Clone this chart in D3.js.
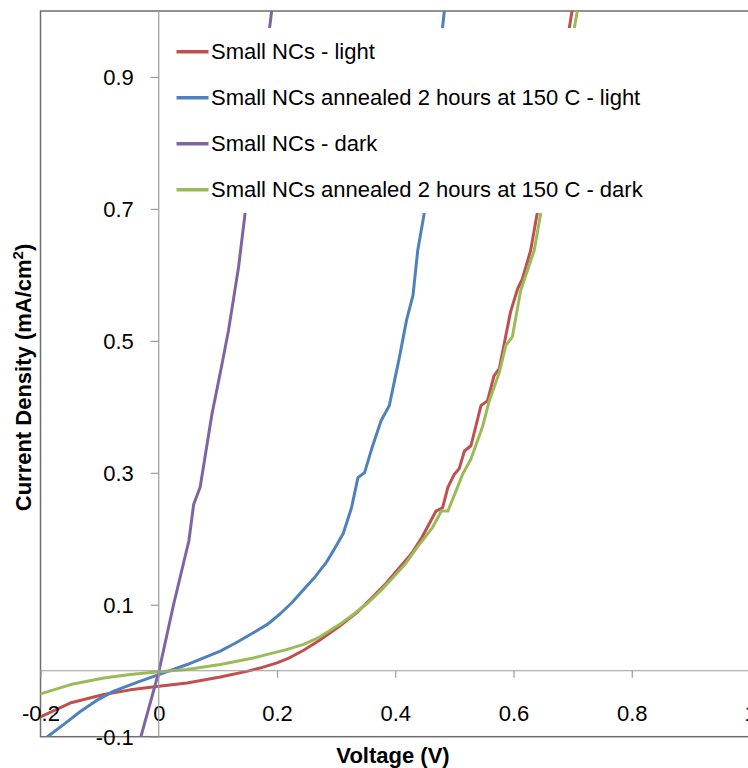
<!DOCTYPE html>
<html>
<head>
<meta charset="utf-8">
<script src="https://cdn.jsdelivr.net/npm/d3@7"></script>
<style>
  html, body { margin: 0; padding: 0; background: #ffffff; }
  svg { display: block; font-family: "Liberation Sans", Arial, sans-serif; }
</style>
</head>
<body>
<svg id="chart" width="748" height="768"></svg>
<script>
// ---------- data ----------
const xTicks = [-0.2, 0, 0.2, 0.4, 0.6, 0.8, 1.0];
const xTickLabels = ["-0.2", "0", "0.2", "0.4", "0.6", "0.8", "1"];
const yTicks = [-0.1, 0.1, 0.3, 0.5, 0.7, 0.9];
const yTickLabels = ["-0.1", "0.1", "0.3", "0.5", "0.7", "0.9"];

const seriesNames = [
  "Small NCs - light",
  "Small NCs annealed 2 hours at 150 C - light",
  "Small NCs - dark",
  "Small NCs annealed 2 hours at 150 C - dark"
];

// Small NCs - light
const lightV = [-0.2, -0.15, -0.093, -0.048, 0, 0.048, 0.104, 0.149, 0.175, 0.2, 0.22, 0.245, 0.27, 0.305, 0.335, 0.36, 0.385, 0.407, 0.428, 0.445, 0.469, 0.48, 0.489, 0.5, 0.508, 0.517, 0.528, 0.545, 0.556, 0.567, 0.576, 0.595, 0.607, 0.615, 0.629, 0.64, 0.672, 0.699, 0.705];
const lightJ = [-0.07, -0.049, -0.036, -0.029, -0.0235, -0.0185, -0.0094, -0.001, 0.005, 0.012, 0.019, 0.031, 0.045, 0.067, 0.088, 0.11, 0.133, 0.156, 0.178, 0.202, 0.242, 0.247, 0.278, 0.298, 0.306, 0.333, 0.341, 0.402, 0.409, 0.447, 0.458, 0.544, 0.579, 0.594, 0.637, 0.693, 0.85, 1.0, 1.04];

// Small NCs annealed - light
const annLightV = [-0.2, -0.191, -0.16, -0.132, -0.105, -0.076, -0.038, 0, 0.048, 0.104, 0.13, 0.16, 0.185, 0.205, 0.225, 0.244, 0.265, 0.284, 0.298, 0.312, 0.326, 0.337, 0.348, 0.36, 0.376, 0.39, 0.407, 0.419, 0.43, 0.438, 0.449, 0.465, 0.483, 0.487];
const annLightJ = [-0.108, -0.102, -0.081, -0.0615, -0.045, -0.031, -0.018, -0.006, 0.0094, 0.0296, 0.042, 0.0575, 0.071, 0.086, 0.103, 0.122, 0.143, 0.165, 0.186, 0.208, 0.247, 0.293, 0.3, 0.336, 0.379, 0.402, 0.475, 0.531, 0.569, 0.637, 0.693, 0.85, 1.0, 1.04];

// Small NCs - dark
const darkV = [-0.04, -0.031, 0, 0.025, 0.051, 0.059, 0.07, 0.079, 0.09, 0.107, 0.118, 0.126, 0.135, 0.146, 0.17, 0.191, 0.196];
const darkJ = [-0.14, -0.1025, -0.002, 0.1, 0.197, 0.252, 0.278, 0.328, 0.389, 0.465, 0.516, 0.561, 0.612, 0.693, 0.85, 1.0, 1.04];

// Small NCs annealed - dark
const annDarkV = [-0.2, -0.149, -0.093, -0.048, 0, 0.048, 0.104, 0.16, 0.216, 0.245, 0.272, 0.309, 0.33, 0.354, 0.375, 0.396, 0.418, 0.438, 0.463, 0.478, 0.489, 0.503, 0.514, 0.528, 0.548, 0.559, 0.576, 0.587, 0.598, 0.612, 0.635, 0.646, 0.678, 0.708, 0.714];
const annDarkJ = [-0.035, -0.021, -0.011, -0.0058, -0.0015, 0.0018, 0.0094, 0.0194, 0.032, 0.04, 0.051, 0.072, 0.086, 0.103, 0.121, 0.141, 0.163, 0.188, 0.217, 0.242, 0.242, 0.273, 0.298, 0.321, 0.371, 0.409, 0.452, 0.493, 0.506, 0.576, 0.637, 0.693, 0.85, 1.0, 1.04];

const seriesColors = ["#C0504D", "#4F81BD", "#8064A2", "#9BBB59"];
const seriesV = [lightV, annLightV, darkV, annDarkV];
const seriesJ = [lightJ, annLightJ, darkJ, annDarkJ];

// ---------- layout ----------
const svg = d3.select("#chart");
const plot = { left: 40.5, right: 750, top: 11, bottom: 736.7 };
const x = d3.scaleLinear().domain([-0.2, 1.0]).range([plot.left, plot.right]);
const y = d3.scaleLinear().domain([-0.1, 1.0]).range([plot.bottom, plot.top]);
const font = "'Liberation Sans', Arial, sans-serif";

svg.append("defs").append("clipPath").attr("id", "clip")
  .append("rect")
  .attr("x", plot.left).attr("y", plot.top)
  .attr("width", plot.right - plot.left).attr("height", plot.bottom - plot.top);

// plot frame
svg.append("rect")
  .attr("x", plot.left).attr("y", plot.top)
  .attr("width", plot.right - plot.left).attr("height", plot.bottom - plot.top)
  .attr("fill", "#ffffff").attr("stroke", "#6e6e6e").attr("stroke-width", 1.5);

// axes through zero
const yAxis = d3.axisLeft(y).tickValues(yTicks).tickSize(8).tickPadding(17)
  .tickFormat((d, i) => yTickLabels[i]);
const xAxis = d3.axisBottom(x).tickValues(xTicks).tickSize(7).tickPadding(0)
  .tickFormat((d, i) => xTickLabels[i]);

const gy = svg.append("g").attr("transform", `translate(${x(0)},0)`).call(yAxis);
const gx = svg.append("g").attr("transform", `translate(0,${y(0)})`).call(xAxis);

[gx, gy].forEach(g => {
  g.select(".domain").attr("stroke", "#9a9a9a").attr("stroke-width", 1.2);
  g.selectAll(".tick line").attr("stroke", "#9a9a9a").attr("stroke-width", 1.2);
  g.selectAll(".tick text").attr("fill", "#000").attr("font-size", 22).attr("font-family", font);
});
gy.select(".domain").attr("d", `M0,${plot.top}V${plot.bottom}`);
gx.select(".domain").attr("d", `M${plot.left},0H${plot.right}`);
gy.selectAll(".tick text").attr("dy", "0.34em");
gx.selectAll(".tick text").attr("y", 50).attr("dy", 0);

// series
const line = d3.line().x(d => x(d[0])).y(d => y(d[1]));
const seriesG = svg.append("g").attr("clip-path", "url(#clip)");
seriesNames.forEach((name, i) => {
  const pts = seriesV[i].map((v, k) => [v, seriesJ[i][k]]);
  seriesG.append("path")
    .datum(pts)
    .attr("d", line)
    .attr("fill", "none")
    .attr("stroke", seriesColors[i])
    .attr("stroke-width", 3)
    .attr("stroke-linejoin", "round")
    .attr("stroke-linecap", "round");
});

// tick labels above the series
gx.raise(); gy.raise();

// legend
const legend = svg.append("g");
legend.append("rect")
  .attr("x", 168).attr("y", 28).attr("width", 494).attr("height", 185)
  .attr("fill", "#ffffff");
seriesNames.forEach((name, i) => {
  const ly = 51.7 + i * 46;
  legend.append("line")
    .attr("x1", 176.5).attr("x2", 208.5).attr("y1", ly).attr("y2", ly)
    .attr("stroke", seriesColors[i]).attr("stroke-width", 3.5);
  legend.append("text")
    .attr("x", 211).attr("y", ly + 7.7)
    .attr("font-size", 22).attr("font-family", font).attr("fill", "#000")
    .text(name);
});

// axis titles
svg.append("text")
  .attr("x", 393).attr("y", 763)
  .attr("text-anchor", "middle")
  .attr("font-size", 22).attr("font-weight", "bold").attr("font-family", font)
  .attr("fill", "#000")
  .text("Voltage (V)");

const yt = svg.append("text")
  .attr("transform", "translate(31,377.5) rotate(-90)")
  .attr("text-anchor", "middle")
  .attr("font-size", 22).attr("font-weight", "bold").attr("font-family", font)
  .attr("fill", "#000");
yt.append("tspan").text("Current Density (mA/cm");
yt.append("tspan").attr("font-size", 15).attr("dy", -8).text("2");
yt.append("tspan").attr("dy", 8).text(")");
</script>
</body>
</html>
